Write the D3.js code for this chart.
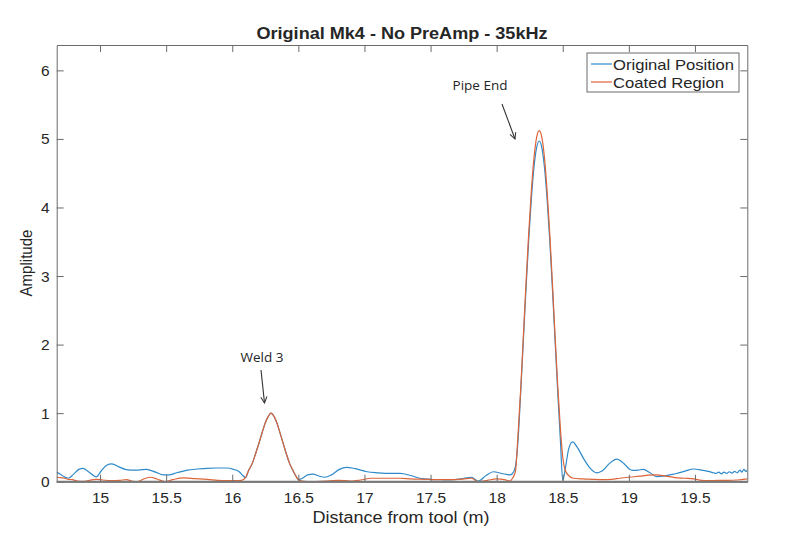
<!DOCTYPE html>
<html>
<head>
<meta charset="utf-8">
<script src="https://cdn.jsdelivr.net/npm/d3@7"></script>
<style>
  body { margin: 0; background: #fff; }
  text { font-family: "Liberation Sans", Arial, sans-serif; fill: #262626; }
</style>
</head>
<body>
<div id="container"></div>
<script>
var width = 800;
var height = 547;

// tick labels
var xTicks = [15, 15.5, 16, 16.5, 17, 17.5, 18, 18.5, 19, 19.5];
var yTicks = [0, 1, 2, 3, 4, 5, 6];
var seriesNames = ["Original Position", "Coated Region"];

// Original Position (blue)
var origX = [14.672, 14.70, 14.73, 14.76, 14.80, 14.84, 14.87, 14.91, 14.95, 14.97,
  15.01, 15.05, 15.09, 15.14, 15.19, 15.23, 15.29, 15.35, 15.42, 15.48,
  15.52, 15.58, 15.66, 15.74, 15.81, 15.88, 15.96, 16.01, 16.05, 16.08, 16.10,
  16.125, 16.15, 16.175, 16.20, 16.225, 16.25, 16.275, 16.293, 16.31, 16.335,
  16.36, 16.385, 16.41, 16.435, 16.46, 16.485, 16.50,
  16.53, 16.57, 16.61, 16.66, 16.70, 16.75, 16.81, 16.865, 16.93, 17.02,
  17.10, 17.20, 17.27, 17.35, 17.42, 17.50, 17.58, 17.65, 17.73, 17.81,
  17.86, 17.92, 17.975, 18.04, 18.10, 18.12,
  18.142, 18.162, 18.182, 18.202, 18.222, 18.242, 18.262, 18.282, 18.302, 18.322,
  18.342, 18.362, 18.382, 18.402, 18.422, 18.442, 18.462, 18.482, 18.50,
  18.52, 18.545, 18.575, 18.61, 18.66, 18.71, 18.756, 18.80, 18.85, 18.908,
  18.96, 19.00, 19.03, 19.07, 19.11, 19.16, 19.21, 19.26, 19.31, 19.36,
  19.42, 19.49, 19.55, 19.60, 19.64, 19.66, 19.68, 19.70, 19.72, 19.74,
  19.76, 19.78, 19.80, 19.82, 19.84, 19.855, 19.87, 19.885, 19.896];
var origY = [0.14, 0.11, 0.07, 0.05, 0.11, 0.18, 0.195, 0.15, 0.09, 0.07,
  0.16, 0.24, 0.26, 0.22, 0.18, 0.17, 0.17, 0.18, 0.14, 0.10,
  0.10, 0.13, 0.17, 0.185, 0.195, 0.20, 0.20, 0.18, 0.15, 0.09, 0.06,
  0.17, 0.26, 0.40, 0.55, 0.71, 0.86, 0.96, 1.0, 0.97, 0.87,
  0.72, 0.56, 0.40, 0.26, 0.16, 0.07, 0.03,
  0.05, 0.10, 0.11, 0.08, 0.065, 0.10, 0.18, 0.21, 0.19, 0.145,
  0.13, 0.12, 0.12, 0.09, 0.05, 0.035, 0.03, 0.025, 0.04, 0.065,
  0.01, 0.09, 0.145, 0.12, 0.10, 0.12,
  0.22, 0.61, 1.31, 2.06, 2.81, 3.51, 4.11, 4.58, 4.87, 4.97,
  4.87, 4.58, 4.11, 3.51, 2.81, 2.06, 1.31, 0.61, 0.02,
  0.20, 0.48, 0.58, 0.50, 0.33, 0.19, 0.13, 0.16, 0.26, 0.33,
  0.27, 0.19, 0.165, 0.17, 0.18, 0.13, 0.075, 0.08, 0.10, 0.12,
  0.15, 0.185, 0.17, 0.15, 0.13, 0.12, 0.14, 0.115, 0.14, 0.12,
  0.145, 0.125, 0.15, 0.13, 0.17, 0.14, 0.18, 0.15, 0.17];

// Coated Region (orange)
var coatX = [14.672, 14.70, 14.73, 14.76, 14.79, 14.83, 14.87, 14.92, 14.97, 15.02,
  15.08, 15.15, 15.20, 15.24, 15.28, 15.33, 15.38, 15.43, 15.49, 15.55,
  15.63, 15.72, 15.81, 15.89, 15.96, 16.02, 16.07, 16.10,
  16.125, 16.15, 16.175, 16.20, 16.225, 16.25, 16.275, 16.293, 16.31, 16.335,
  16.36, 16.385, 16.41, 16.435, 16.46, 16.485, 16.50,
  16.53, 16.60, 16.70, 16.80, 16.90, 16.97, 17.05, 17.15, 17.27, 17.35,
  17.45, 17.55, 17.65, 17.75, 17.81, 17.86, 17.93, 18.00, 18.06, 18.10, 18.12,
  18.142, 18.162, 18.182, 18.202, 18.222, 18.242, 18.262, 18.282, 18.302, 18.322,
  18.342, 18.362, 18.382, 18.402, 18.422, 18.442, 18.462, 18.482, 18.50,
  18.52, 18.55, 18.58, 18.65, 18.72, 18.80, 18.87, 18.93, 19.00, 19.08,
  19.15, 19.21, 19.28, 19.35, 19.42, 19.49, 19.55, 19.60, 19.68, 19.75,
  19.82, 19.896];
var coatY = [0.065, 0.06, 0.05, 0.035, 0.03, 0.01, 0.005, 0.02, 0.035, 0.025,
  0.015, 0.02, 0.03, 0.01, 0.0, 0.04, 0.065, 0.04, 0.0, 0.03,
  0.055, 0.045, 0.035, 0.02, 0.015, 0.015, 0.02, 0.06,
  0.17, 0.26, 0.40, 0.55, 0.71, 0.86, 0.96, 1.0, 0.97, 0.87,
  0.72, 0.56, 0.40, 0.26, 0.16, 0.07, 0.03,
  0.01, 0.0, 0.01, 0.02, 0.01, 0.025, 0.05, 0.05, 0.05, 0.04,
  0.035, 0.03, 0.03, 0.04, 0.05, 0.0, 0.02, 0.04, 0.03, 0.01, 0.05,
  0.15, 0.70, 1.35, 2.12, 2.89, 3.61, 4.23, 4.72, 5.02, 5.12,
  5.02, 4.72, 4.23, 3.61, 2.89, 2.12, 1.40, 0.78, 0.36,
  0.16, 0.08, 0.05, 0.04, 0.035, 0.03, 0.035, 0.05, 0.065, 0.08,
  0.095, 0.10, 0.08, 0.06, 0.05, 0.04, 0.02, 0.015, 0.02, 0.02,
  0.025, 0.04];

var colors = ["#2f8ac9", "#dd6438"];

var svg = d3
  .select("div#container")
  .append("svg")
  .attr("width", width)
  .attr("height", height)
  .style("background-color", "#fff");

var plotL = 56.7, plotR = 747.3, plotT = 45, plotB = 481.7;

var x = d3.scaleLinear().domain([14.672, 19.896]).range([plotL, plotR]);
var y = d3.scaleLinear().domain([0, 6.37]).range([plotB, plotT]);

// clip
svg.append("clipPath").attr("id", "clip")
  .append("rect")
  .attr("x", plotL).attr("y", plotT)
  .attr("width", plotR - plotL).attr("height", plotB - plotT);

var line = d3.line()
  .x((d) => x(d[0]))
  .y((d) => y(d[1]))
  .curve(d3.curveMonotoneX);

var series = [d3.zip(origX, origY), d3.zip(coatX, coatY)];

svg.append("g")
  .attr("clip-path", "url(#clip)")
  .selectAll("path")
  .data(series)
  .enter()
  .append("path")
  .attr("d", line)
  .attr("fill", "none")
  .attr("stroke", (d, i) => colors[i])
  .attr("stroke-width", 1.2);

// axes (MATLAB style: ticks inward, box)
var axisColor = "#6b6b6b";
function styleAxis(g) {
  g.selectAll("path, line").attr("stroke", axisColor);
  g.selectAll("text")
    .style("font-family", "'Liberation Sans', Arial, sans-serif")
    .style("font-size", "15.5px")
    .attr("fill", "#1a1a1a");
}

svg.append("g")
  .attr("transform", `translate(0,${plotB})`)
  .call(d3.axisBottom(x).tickValues(xTicks).tickFormat(d3.format("")).tickSizeInner(-7).tickSizeOuter(0).tickPadding(10))
  .call(styleAxis);

svg.append("g")
  .attr("transform", `translate(0,${plotT})`)
  .call(d3.axisTop(x).tickValues(xTicks).tickFormat("").tickSizeInner(-7).tickSizeOuter(0))
  .call(styleAxis);

svg.append("g")
  .attr("transform", `translate(${plotL},0)`)
  .call(d3.axisLeft(y).tickValues(yTicks).tickFormat(d3.format("d")).tickSizeInner(-7).tickSizeOuter(0).tickPadding(7))
  .call(styleAxis);

svg.append("g")
  .attr("transform", `translate(${plotR},0)`)
  .call(d3.axisRight(y).tickValues(yTicks).tickFormat("").tickSizeInner(-7).tickSizeOuter(0))
  .call(styleAxis);

// bottom axis line a bit heavier like the reference
svg.append("line")
  .attr("x1", plotL).attr("x2", plotR)
  .attr("y1", plotB).attr("y2", plotB)
  .attr("stroke", "#7a7a7a").attr("stroke-width", 2);

// title & labels
svg.append("text")
  .attr("x", (plotL + plotR) / 2)
  .attr("y", 39)
  .attr("text-anchor", "middle")
  .attr("textLength", 291)
  .attr("lengthAdjust", "spacingAndGlyphs")
  .style("font-size", "16px")
  .style("font-weight", "bold")
  .text("Original Mk4 - No PreAmp - 35kHz");

svg.append("text")
  .attr("x", 401)
  .attr("y", 523)
  .attr("text-anchor", "middle")
  .attr("textLength", 177)
  .attr("lengthAdjust", "spacingAndGlyphs")
  .style("font-size", "16px")
  .text("Distance from tool (m)");

svg.append("text")
  .attr("transform", "translate(32,263) rotate(-90)")
  .attr("text-anchor", "middle")
  .attr("textLength", 67)
  .attr("lengthAdjust", "spacingAndGlyphs")
  .style("font-size", "16px")
  .text("Amplitude");

// legend
var legend = svg.append("g");
legend.append("rect")
  .attr("x", 587).attr("y", 53)
  .attr("width", 152).attr("height", 39)
  .attr("fill", "#fff")
  .attr("stroke", "#6b6b6b");

var legendLen = [121, 111];
seriesNames.forEach((name, i) => {
  var ly = 64 + i * 18;
  legend.append("line")
    .attr("x1", 591).attr("x2", 612)
    .attr("y1", ly).attr("y2", ly)
    .attr("stroke", colors[i]).attr("stroke-width", 1.2);
  legend.append("text")
    .attr("x", 613).attr("y", ly + 5.5)
    .attr("textLength", legendLen[i])
    .attr("lengthAdjust", "spacingAndGlyphs")
    .style("font-size", "15px")
    .text(name);
});

// annotations
var annots = [
  { label: "Weld 3", tx: 262, ty: 362, from: [261, 370], to: [264.5, 403] },
  { label: "Pipe End", tx: 480, ty: 90, from: [502, 104], to: [515, 139] }
];

svg.selectAll("text.annot")
  .data(annots)
  .enter()
  .append("text")
  .attr("class", "annot")
  .attr("x", (d) => d.tx)
  .attr("y", (d) => d.ty)
  .attr("text-anchor", "middle")
  .style("font-family", "'Open Sans', 'Noto Sans', sans-serif")
  .style("font-size", "13.5px")
  .text((d) => d.label);

svg.append("defs").append("marker")
  .attr("id", "arrow")
  .attr("viewBox", "0 0 10 10")
  .attr("refX", 9).attr("refY", 5)
  .attr("markerWidth", 7).attr("markerHeight", 7)
  .attr("orient", "auto")
  .append("path")
  .attr("d", "M1,1 L9,5 L1,9")
  .attr("fill", "none")
  .attr("stroke", "#333")
  .attr("stroke-width", 1.3);

svg.selectAll("line.annot")
  .data(annots)
  .enter()
  .append("line")
  .attr("class", "annot")
  .attr("x1", (d) => d.from[0]).attr("y1", (d) => d.from[1])
  .attr("x2", (d) => d.to[0]).attr("y2", (d) => d.to[1])
  .attr("stroke", "#333")
  .attr("stroke-width", 1.1)
  .attr("marker-end", "url(#arrow)");
</script>
</body>
</html>
